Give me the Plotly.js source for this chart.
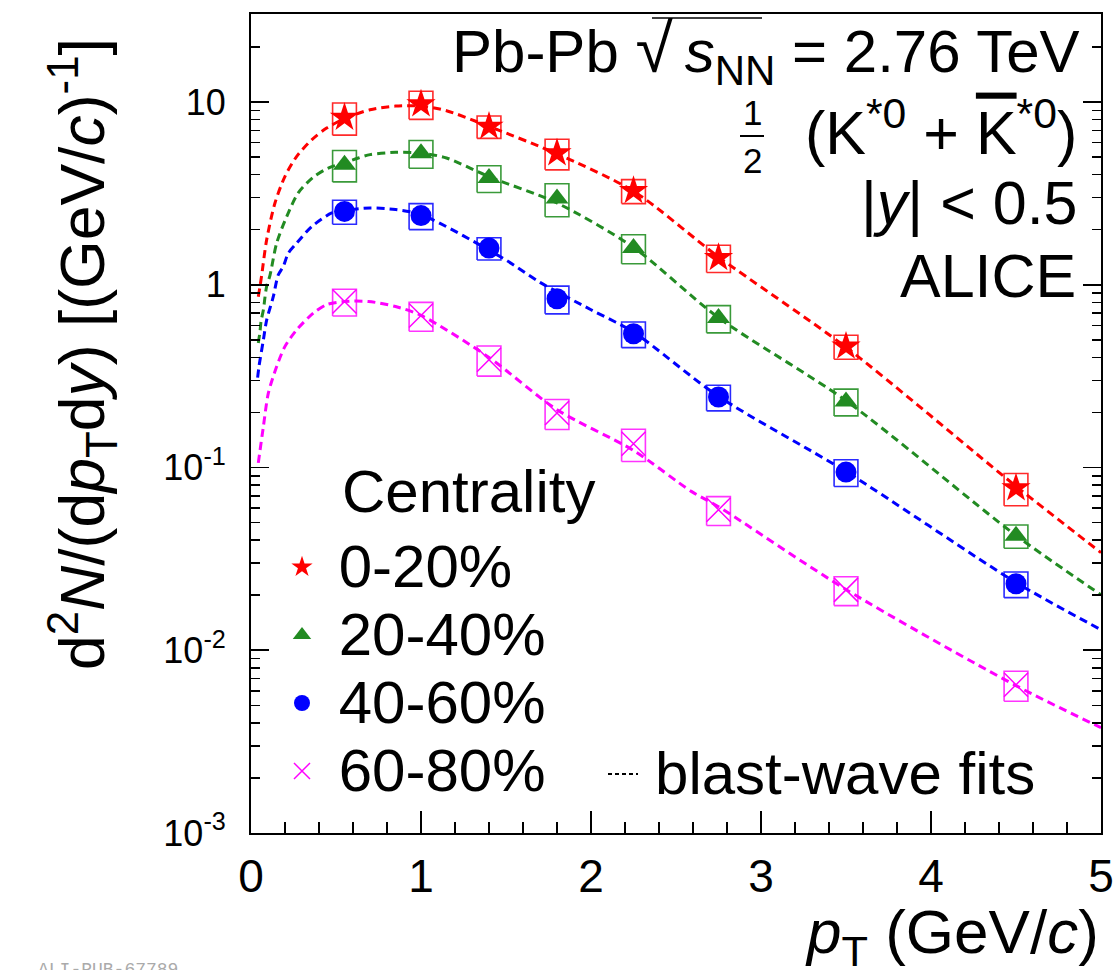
<!DOCTYPE html>
<html>
<head>
<meta charset="utf-8">
<script src="https://cdn.plot.ly/plotly-3.0.1.min.js"></script>
<style>html,body{margin:0;padding:0;background:#fff;}</style>
</head>
<body>
<div id="chart" style="width:1115px;height:970px;"></div>
<script>
// ---- data ----
const pt = [0.55, 1.0, 1.4, 1.8, 2.25, 2.75, 3.5, 4.5];
const y0_20  = [8.23, 9.74, 7.35, 5.25, 3.27, 1.405, 0.46, 0.0772];
const y20_40 = [4.54, 5.25, 3.84, 2.96, 1.59, 0.657, 0.23, 0.0423];
const y40_60 = [2.52, 2.39, 1.587, 0.838, 0.539, 0.243, 0.0944, 0.0231];
const y60_80 = [0.81, 0.679, 0.389, 0.1986, 0.1349, 0.0587, 0.0214, 0.00647];
// relative systematic uncertainties (box half heights)
const sys0_20  = [0.20, 0.175, 0.14, 0.19, 0.15, 0.17, 0.15, 0.20];
const sys20_40 = [0.195, 0.173, 0.167, 0.205, 0.18, 0.17, 0.167, 0.145];
const sys40_60 = [0.15, 0.162, 0.14, 0.173, 0.16, 0.16, 0.167, 0.16];
const sys60_80 = [0.167, 0.18, 0.187, 0.187, 0.2, 0.18, 0.18, 0.187];
const ptBinHalf = 0.07;

// blast-wave fit curves
const fit0_20_x = [0.043, 0.053, 0.063, 0.092, 0.141, 0.2, 0.269, 0.357, 0.445, 0.55, 0.70, 0.85, 1.0, 1.15, 1.4, 1.8, 2.25, 2.75, 3.5, 4.5, 5.0];
const fit0_20_y = [0.86, 0.98, 1.13, 1.76, 2.80, 3.92, 5.04, 6.21, 7.20, 8.1, 9.07, 9.5, 9.5, 8.96, 7.35, 5.2, 3.25, 1.42, 0.455, 0.079, 0.0342];
const fit20_40_x = [0.043, 0.053, 0.059, 0.073, 0.082, 0.092, 0.112, 0.151, 0.21, 0.278, 0.367, 0.455, 0.55, 0.632, 0.70, 0.85, 1.0, 1.15, 1.4, 1.8, 2.25, 2.75, 3.5, 4.5, 5.0];
const fit20_40_y = [0.48, 0.555, 0.63, 0.73, 0.85, 0.98, 1.13, 1.69, 2.36, 3.18, 3.88, 4.35, 4.65, 4.94, 5.15, 5.3, 5.25, 4.94, 3.9, 2.8, 1.6, 0.66, 0.232, 0.0425, 0.0201];
const fit40_60_x = [0.039, 0.047, 0.073, 0.092, 0.131, 0.16, 0.19, 0.22, 0.269, 0.357, 0.475, 0.55, 0.70, 0.85, 1.0, 1.48, 1.7, 2.0, 2.25, 2.75, 3.5, 4.5, 5.0];
const fit40_60_y = [0.31, 0.357, 0.50, 0.64, 0.86, 1.13, 1.26, 1.49, 1.69, 2.08, 2.47, 2.55, 2.63, 2.58, 2.42, 1.4, 1.03, 0.73, 0.55, 0.245, 0.095, 0.0235, 0.01295];
const fit60_80_x = [0.043, 0.073, 0.102, 0.151, 0.2, 0.269, 0.367, 0.445, 0.55, 0.69, 0.85, 1.0, 1.4, 1.8, 2.25, 2.59, 2.75, 3.5, 4.5, 5.0];
const fit60_80_y = [0.106, 0.168, 0.255, 0.357, 0.46, 0.567, 0.70, 0.778, 0.81, 0.81, 0.76, 0.68, 0.40, 0.207, 0.124, 0.074, 0.061, 0.0215, 0.0064, 0.00377];

const yTickVals = [0.001, 0.01, 0.1, 1, 10];
const yTickText = ['10<sup>-3</sup>', '10<sup>-2</sup>', '10<sup>-1</sup>', '1', '10'];
const xTickVals = [0, 1, 2, 3, 4, 5];

const seriesNames = ['0-20%', '20-40%', '40-60%', '60-80%'];
const seriesY = [y0_20, y20_40, y40_60, y60_80];
const seriesSys = [sys0_20, sys20_40, sys40_60, sys60_80];
const fitX = [fit0_20_x, fit20_40_x, fit40_60_x, fit60_80_x];
const fitY = [fit0_20_y, fit20_40_y, fit40_60_y, fit60_80_y];

// ---- styles ----
const FONT = 'Liberation Sans, Arial, Helvetica, sans-serif';
const colors = ['#ff0000', '#228b22', '#0000ff', '#ff00ff'];
const boxColors = ['#ff2a2a', '#3a9a3a', '#2a2aff', '#ff33ff'];
const symbols = ['star', 'triangle-up', 'circle', 'x-thin-open'];
const sizes = [22, 20, 21, 24];

const traces = [];
// systematic boxes
seriesY.forEach((ys, i) => {
  const bx = [], by = [];
  pt.forEach((x, j) => {
    const lo = ys[j] * (1 - seriesSys[i][j]);
    const hi = ys[j] * (1 + seriesSys[i][j]);
    bx.push(x - ptBinHalf, x + ptBinHalf, x + ptBinHalf, x - ptBinHalf, x - ptBinHalf, null);
    by.push(lo, lo, hi, hi, lo, null);
  });
  traces.push({x: bx, y: by, mode: 'lines', type: 'scatter', showlegend: false, hoverinfo: 'skip',
    line: {color: boxColors[i], width: 1.6}, connectgaps: false});
});
// fits
fitX.forEach((fx, i) => {
  traces.push({x: fx, y: fitY[i], mode: 'lines', type: 'scatter', showlegend: false,
    line: {color: colors[i], width: 3, dash: '8px,5px', shape: 'spline', smoothing: 0.8}});
});
// data markers
seriesY.forEach((ys, i) => {
  const m = {symbol: symbols[i], size: sizes[i], color: colors[i]};
  if (symbols[i] === 'x-thin-open') m.line = {color: colors[i], width: 1.5};
  else m.line = {width: 0};
  traces.push({x: pt, y: ys, mode: 'markers', type: 'scatter',
    name: '<span style="font-size:60px">&nbsp;' + seriesNames[i] + '</span>', marker: m, legend: 'legend'});
});
// legend entry for fits
traces.push({x: [null], y: [null], mode: 'lines', type: 'scatter',
  name: '<span style="font-size:60px">&#8201;blast-wave fits</span>', legend: 'legend2',
  line: {color: '#000', width: 2, dash: '4px,3px'}});

const L = 251, R = 1101, T = 14, B = 833;
const px = v => (v - L) / (R - L);
const py = v => (B - v) / (B - T);

const layout = {
  width: 1115, height: 970,
  margin: {l: L, r: 1115 - R, t: T, b: 970 - B, pad: 0},
  paper_bgcolor: '#fff', plot_bgcolor: '#fff',
  font: {family: FONT, color: '#000'},
  showlegend: true,
  xaxis: {
    range: [0, 5], tickvals: xTickVals, ticks: 'inside', ticklen: 22, tickwidth: 1.8, tickcolor: '#000',
    showline: true, linewidth: 2, linecolor: '#000', mirror: true, showgrid: false, zeroline: false,
    tickfont: {size: 46, family: FONT}, ticklabelstandoff: 2,
    minor: {dtick: 0.2, ticks: 'inside', ticklen: 11, tickwidth: 1.5, tickcolor: '#000', showgrid: false}
  },
  yaxis: {
    type: 'log', range: [-3, Math.log10(30.3)], tickmode: 'array', tickvals: yTickVals, ticktext: yTickText,
    ticks: 'inside', ticklen: 18, tickwidth: 1.8, tickcolor: '#000',
    showline: true, linewidth: 2, linecolor: '#000', mirror: 'ticks', showgrid: false, zeroline: false,
    tickfont: {size: 36, family: FONT}, ticklabelstandoff: 16,
    minor: {dtick: 'D1', ticks: 'inside', ticklen: 9, tickwidth: 1.5, tickcolor: '#000', showgrid: false}
  },
  legend: {x: px(282), xanchor: 'left', y: py(528), yanchor: 'top', bgcolor: 'rgba(0,0,0,0)',
    font: {size: 50, family: FONT}, tracegroupgap: 0, borderwidth: 0},
  legend2: {x: px(603), xanchor: 'left', y: py(735), yanchor: 'top', bgcolor: 'rgba(0,0,0,0)',
    font: {size: 50, family: FONT}, borderwidth: 0},
  shapes: [
    // fraction bar of 1/2
    {type: 'line', xref: 'paper', yref: 'paper', x0: px(740), x1: px(764), y0: py(136), y1: py(136),
      line: {color: '#000', width: 2}},
    // overline of the square root
    {type: 'line', xref: 'paper', yref: 'paper', x0: px(652), x1: px(762), y0: py(18), y1: py(18),
      line: {color: '#000', width: 1.5}}
  ],
  annotations: [
    {text: 'Pb-Pb <span style="font-size:68px">√</span>&#8201;<i>s</i><sub>NN</sub> = 2.76 TeV', xref: 'paper', yref: 'paper',
      x: px(1082), y: py(52), xanchor: 'right', yanchor: 'middle', showarrow: false, font: {size: 60, family: FONT}},
    {text: '1', xref: 'paper', yref: 'paper', x: px(752), y: py(112), xanchor: 'center', yanchor: 'middle',
      showarrow: false, font: {size: 35, family: FONT}},
    {text: '2', xref: 'paper', yref: 'paper', x: px(752), y: py(160), xanchor: 'center', yanchor: 'middle',
      showarrow: false, font: {size: 35, family: FONT}},
    {text: '(K<sup>*0</sup> + <span style="text-decoration:overline">K</span><sup>*0</sup>)', xref: 'paper', yref: 'paper',
      x: px(1079), y: py(128), xanchor: 'right', yanchor: 'middle', showarrow: false, font: {size: 61, family: FONT}},
    {text: '|<i>y</i>| &lt; 0.5', xref: 'paper', yref: 'paper', x: px(1080), y: py(203), xanchor: 'right', yanchor: 'middle',
      showarrow: false, font: {size: 61, family: FONT}},
    {text: 'ALICE', xref: 'paper', yref: 'paper', x: px(1078), y: py(276), xanchor: 'right', yanchor: 'middle',
      showarrow: false, font: {size: 61, family: FONT}},
    {text: 'Centrality', xref: 'paper', yref: 'paper', x: px(340), y: py(492), xanchor: 'left', yanchor: 'middle',
      showarrow: false, font: {size: 60, family: FONT}},
    {text: 'd<sup>2</sup><i>N</i>/(d<i>p</i><sub>T</sub>d<i>y</i>) [(GeV/<i>c</i>)<sup>-1</sup>]', xref: 'paper', yref: 'paper',
      x: px(82), y: py(354), xanchor: 'center', yanchor: 'middle', textangle: -90, showarrow: false,
      font: {size: 62.5, family: FONT}},
    {text: '<i>p</i><sub>T</sub> (GeV/<i>c</i>)', xref: 'paper', yref: 'paper', x: px(1101), y: py(936),
      xanchor: 'right', yanchor: 'middle', showarrow: false, font: {size: 62, family: FONT}},
    {text: 'ALI-PUB-67789', xref: 'paper', yref: 'paper', x: px(36), y: py(958), xanchor: 'left', yanchor: 'top',
      showarrow: false, font: {size: 18, family: 'Liberation Mono, Courier New, monospace', color: '#aaaaaa'}}
  ]
};

Plotly.newPlot('chart', traces, layout, {displayModeBar: false, staticPlot: true});
</script>
</body>
</html>
